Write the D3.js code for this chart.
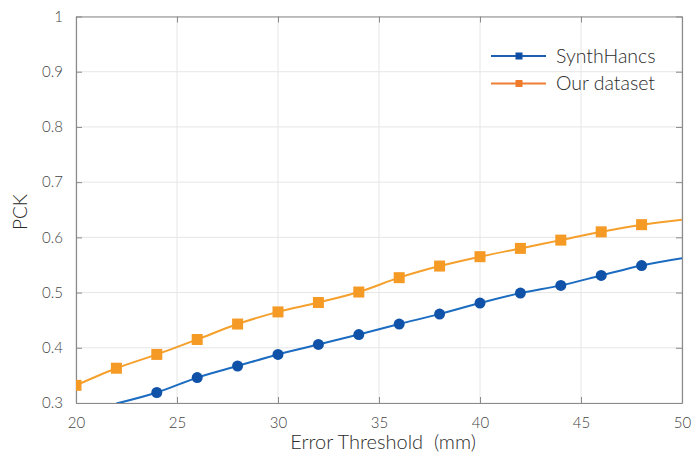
<!DOCTYPE html>
<html><head><meta charset="utf-8">
<script src="https://cdn.jsdelivr.net/npm/d3@7"></script>
<style>
body{margin:0;background:#fff;}
text{font-family:Lato,"Open Sans",sans-serif;font-weight:300;fill:#333;}
</style></head>
<body><svg id="c" width="692" height="455"></svg>
<script>
const seriesNames = ["SynthHancs", "Our dataset"];
const synthX = [22, 24, 26, 28, 30, 32, 34, 36, 38, 40, 42, 44, 46, 48, 50];
const synthY = [0.299, 0.319, 0.346, 0.367, 0.388, 0.406, 0.424, 0.443, 0.461, 0.481, 0.499, 0.513, 0.531, 0.549, 0.562];
const synthMarkerX = [24, 26, 28, 30, 32, 34, 36, 38, 40, 42, 44, 46, 48];
const oursX = [20, 22, 24, 26, 28, 30, 32, 34, 36, 38, 40, 42, 44, 46, 48, 50];
const oursY = [0.332, 0.363, 0.388, 0.415, 0.443, 0.465, 0.482, 0.501, 0.527, 0.548, 0.565, 0.580, 0.595, 0.610, 0.623, 0.632];
const oursMarkerX = [20, 22, 24, 26, 28, 30, 32, 34, 36, 38, 40, 42, 44, 46, 48];
const xTicks = [20, 25, 30, 35, 40, 45, 50];
const yTicks = [0.3, 0.4, 0.5, 0.6, 0.7, 0.8, 0.9, 1];

const svg = d3.select("#c");
const L = 76, R = 682, T = 16.5, B = 403;
const x = d3.scaleLinear().domain([20, 50]).range([L, R]);
const y = d3.scaleLinear().domain([0.3, 1]).range([B, T]);

svg.append("defs").append("clipPath").attr("id","clip")
  .append("rect").attr("x",L).attr("y",T).attr("width",R-L).attr("height",B-T);

// grid
const g = svg.append("g");
g.selectAll(".vx").data(xTicks).enter().append("line")
  .attr("x1",d=>x(d)).attr("x2",d=>x(d)).attr("y1",T).attr("y2",B)
  .attr("stroke","#e6e6e6").attr("stroke-width",1);
g.selectAll(".hy").data(yTicks).enter().append("line")
  .attr("x1",L).attr("x2",R).attr("y1",d=>y(d)).attr("y2",d=>y(d))
  .attr("stroke","#e6e6e6").attr("stroke-width",1);

// axes
const xAxis = d3.axisBottom(x).tickValues(xTicks).tickSizeInner(-6).tickSizeOuter(0).tickPadding(14).tickFormat(d3.format("d"));
const xTop = d3.axisTop(x).tickValues(xTicks).tickSizeInner(-6).tickSizeOuter(0).tickFormat("");
const yAxis = d3.axisLeft(y).tickValues(yTicks).tickSizeInner(-6).tickSizeOuter(0).tickPadding(13).tickFormat(d=>d===1?"1":d3.format(".1f")(d));
const yRight = d3.axisRight(y).tickValues(yTicks).tickSizeInner(-6).tickSizeOuter(0).tickFormat("");
function style(sel){
  sel.select(".domain").attr("stroke","#8a8a8a").attr("stroke-width",1.2);
  sel.selectAll(".tick line").attr("stroke","#8a8a8a");
  sel.selectAll(".tick text").style("font-size","15px").style("fill","#444").style("font-family","Lato,'Open Sans',sans-serif").style("font-weight","300");
}
svg.append("g").attr("transform",`translate(0,${B})`).call(xAxis).call(style);
svg.append("g").attr("transform",`translate(0,${T})`).call(xTop).call(style);
svg.append("g").attr("transform",`translate(${L},0)`).call(yAxis).call(style);
svg.append("g").attr("transform",`translate(${R},0)`).call(yRight).call(style);

const plot = svg.append("g").attr("clip-path","url(#clip)");
const line = d3.line().curve(d3.curveCatmullRom);
const synthPts = synthX.map((v,i)=>[x(v), y(synthY[i])]);
const oursPts = oursX.map((v,i)=>[x(v), y(oursY[i])]);
plot.append("path").attr("d",line(oursPts)).attr("fill","none").attr("stroke","#F5A02C").attr("stroke-width",2);
plot.append("path").attr("d",line(synthPts)).attr("fill","none").attr("stroke","#1B6CC0").attr("stroke-width",2);
const s = 11;
plot.selectAll(".om").data(oursMarkerX).enter().append("rect")
  .attr("x",d=>x(d)-s/2).attr("y",d=>y(oursY[oursX.indexOf(d)])-s/2)
  .attr("width",s).attr("height",s).attr("fill","#F59A25");
plot.selectAll(".sm").data(synthMarkerX).enter().append("circle")
  .attr("cx",d=>x(d)).attr("cy",d=>y(synthY[synthX.indexOf(d)])).attr("r",5.5).attr("fill","#0F52A8");

// legend
const legColors = [["#1D5FB2","#0E4FA5"],["#EE7F33","#EE7A2A"]];
const lg = svg.append("g");
seriesNames.forEach((n,i)=>{
  const yy = 56 + i*27.5;
  lg.append("line").attr("x1",491).attr("x2",546).attr("y1",yy).attr("y2",yy).attr("stroke",legColors[i][0]).attr("stroke-width",2);
  lg.append("rect").attr("x",515.5).attr("y",yy-3.5).attr("width",7).attr("height",7).attr("fill",legColors[i][1]);
  lg.append("text").attr("x",556).attr("y",yy+6.5).style("font-size","19.5px").style("fill","#2b2b2b").text(n);
});

svg.append("text").attr("x",383).attr("y",449).attr("text-anchor","middle").style("font-size","20px").style("fill","#2b2b2b").style("white-space","pre").text("Error Threshold  (mm)");
svg.append("text").attr("transform","translate(27,212) rotate(-90)").attr("text-anchor","middle").style("font-size","19px").style("fill","#2b2b2b").text("PCK");
</script></body></html>
